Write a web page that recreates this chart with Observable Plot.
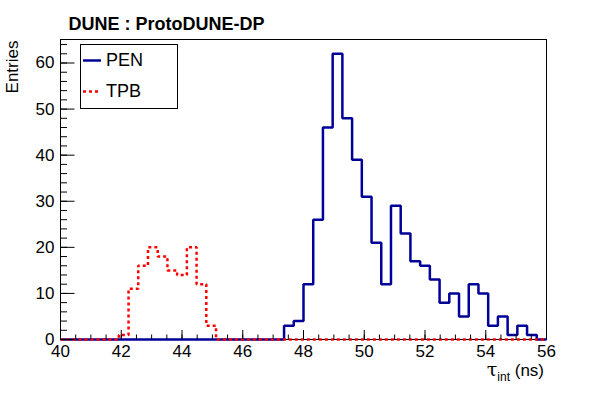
<!DOCTYPE html>
<html><head><meta charset="utf-8">
<script src="https://cdn.jsdelivr.net/npm/d3@7"></script>
<script src="https://cdn.jsdelivr.net/npm/@observablehq/plot@0.6"></script>
<style>
body{margin:0;background:#fff;}
#wrap{position:relative;width:606px;height:394px;font-family:"Liberation Sans",Arial,Helvetica,sans-serif;color:#000;}
#legend{position:absolute;left:80px;top:44px;width:96px;height:63px;border:1px solid #000;background:#fff;}
.item{position:absolute;left:2px;height:20px;}
.item svg{position:absolute;left:0;top:0;}
.item span{position:absolute;left:23px;top:0;font-size:18px;line-height:20px;white-space:nowrap;}
#xtitle{position:absolute;right:62px;top:361px;font-size:17px;line-height:17px;white-space:nowrap;}
#xtitle .tau{font-size:19px;font-family:"DejaVu Serif","Liberation Serif",serif;}
#xtitle sub{font-size:12px;vertical-align:-5px;line-height:0;}
</style>
</head><body>
<div id="wrap"></div>
<script>
// Histogram binning (ROOT TH1: 50 bins over 40..56 ns)
const binLow = 40;
const binHigh = 56;
const nBins = 50;
// Bin contents
const penCounts = [0,0,0,0,0,0,0,0,0,0, 0,0,0,0,0,0,0,0,0,0, 0,0,0,3,4,12,26,46,62,48, 39,31,21,12,29,23,17,16,13,8, 10,5,12,10,3,5,1,3,1,0];
const tpbCounts = [0,0,0,0,0,0,1,11,16,20, 18,15,14,20,12,3,0,0,0,0, 0,0,0,0,0,0,0,0,0,0, 0,0,0,0,0,0,0,0,0,0, 0,0,0,0,0,0,0,0,0,0];
const seriesNames = ["PEN", "TPB"];
const xMajorTicks = [40,42,44,46,48,50,52,54,56];
const yMajorTicks = [0,10,20,30,40,50,60];
const yMax = 65.1;
const titleText = "DUNE : ProtoDUNE-DP";
const yTitle = "Entries";

const width = (binHigh - binLow) / nBins;
function stepPoints(counts) {
  const pts = [];
  for (let i = 0; i <= nBins; i++) pts.push({x: binLow + i * width, y: counts[Math.min(i, nBins - 1)]});
  return pts;
}
const pen = stepPoints(penCounts);
const tpb = stepPoints(tpbCounts);
const xMinorTicks = d3.range(binLow, binHigh + 0.001, 0.5);
const yMinorTicks = d3.range(0, yMax, 2);
const font = '"Liberation Sans",Arial,Helvetica,sans-serif';

const chart = Plot.plot({
  width: 606, height: 394,
  marginLeft: 60, marginRight: 60, marginTop: 39, marginBottom: 55,
  style: {fontFamily: font, fontSize: "17px", color: "#000", background: "#fff", overflow: "visible"},
  x: {domain: [binLow, binHigh]},
  y: {domain: [0, yMax]},
  marks: [
    Plot.frame({stroke: "#000", strokeWidth: 1}),
    Plot.lineY(pen, {x: "x", y: "y", curve: "step-after", stroke: "#000099", strokeWidth: 2.5, strokeLinejoin: "miter", strokeLinecap: "butt"}),
    Plot.lineY(tpb, {x: "x", y: "y", curve: "step-after", stroke: "#ff0000", strokeWidth: 2.5, strokeDasharray: "3,3", strokeLinejoin: "miter", strokeLinecap: "butt"}),
    Plot.axisX(xMinorTicks, {tickSize: -4.5, tickFormat: () => "", label: null, stroke: "#000"}),
    Plot.axisX(xMajorTicks, {tickSize: -9, tickFormat: () => "", label: null, stroke: "#000"}),
    Plot.axisX(xMajorTicks, {tickSize: 0, tickPadding: 5, label: null, fontSize: 17, fill: "#000"}),
    Plot.axisY(yMinorTicks, {tickSize: -7, tickFormat: () => "", label: null, stroke: "#000"}),
    Plot.axisY(yMajorTicks, {tickSize: -14.5, tickFormat: () => "", label: null, stroke: "#000"}),
    Plot.axisY(yMajorTicks, {tickSize: 0, tickPadding: 6, label: null, fontSize: 17, fill: "#000"}),
    Plot.text([titleText], {frameAnchor: "top-left", dx: 8, dy: -15, text: d => d, textAnchor: "start", lineAnchor: "middle", fontWeight: "bold", fontSize: 18, fill: "#000"}),
    Plot.text([yTitle], {frameAnchor: "top-left", dx: -48, dy: 1, text: d => d, rotate: -90, textAnchor: "end", lineAnchor: "middle", fontSize: 17, fill: "#000"})
  ]
});
const wrap = document.getElementById("wrap");
wrap.appendChild(chart);

// Legend
const legend = document.createElement("div");
legend.id = "legend";
const legendStyles = [
  {stroke: "#000099", dash: null},
  {stroke: "#ff0000", dash: "3,3"}
];
seriesNames.forEach((name, i) => {
  const item = document.createElement("div");
  item.className = "item";
  item.style.top = (5 + i * 31) + "px";
  const s = legendStyles[i];
  item.innerHTML = `<svg width="20" height="20"><line x1="0" x2="18" y1="10.5" y2="10.5" stroke="${s.stroke}" stroke-width="2.5" ${s.dash ? `stroke-dasharray="${s.dash}"` : ""}/></svg><span>${name}</span>`;
  legend.appendChild(item);
});
wrap.appendChild(legend);

const xt = document.createElement("div");
xt.id = "xtitle";
xt.innerHTML = "<span class=\"tau\">τ</span><sub>int</sub> (ns)";
wrap.appendChild(xt);
</script>
</body></html>
